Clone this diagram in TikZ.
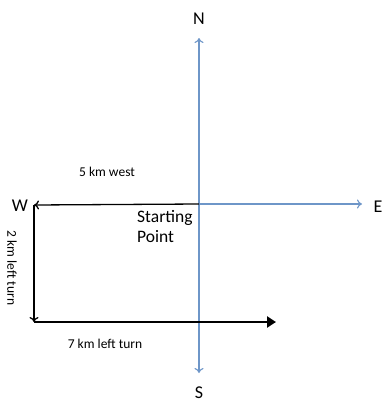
\documentclass[tikz,border=0pt]{standalone}
\usepackage{fontspec}
\setmainfont{Carlito}
\usetikzlibrary{arrows.meta}
\definecolor{axisblue}{RGB}{110,150,200}
\tikzset{
  axis/.style={draw=axisblue, line width=1.1pt, -{To[length=5pt,width=9pt]}},
  walk/.style={draw=black, line width=1.3pt, -{To[length=5pt,width=9pt]}},
  walkthick/.style={draw=black, line width=2.6pt, -{Triangle[length=9pt,width=11pt]}},
  dir/.style={font=\fontsize{18}{20}\selectfont, inner sep=0pt},
  lbl/.style={font=\fontsize{13.5}{15}\selectfont, inner sep=0pt},
}
\begin{document}
\begin{tikzpicture}[x=1pt,y=-1pt]
\useasboundingbox (0,0) rectangle (384,407);
\fill[white] (0,0) rectangle (384,407);
\coordinate (O) at (199,204);
\coordinate (Ntip) at (199,38);
\coordinate (Stip) at (199,373);
\coordinate (Etip) at (362,204);
\coordinate (Wtip) at (34,205);
\coordinate (SWc) at (34,322);
\coordinate (SEtip) at (276,322);
\draw[axis] (O) -- (Ntip);
\draw[axis] (O) -- (Stip);
\draw[axis] (O) -- (Etip);
\draw[walk] (O) -- (Wtip);
\draw[walk] (Wtip) -- (SWc);
\draw[walkthick] (SWc) -- (SEtip);
\node[dir] (N) at (199,19) {N};
\node[dir] (S) at (199,393) {S};
\node[dir] (E) at (378,207) {E};
\node[dir] (W) at (20,206) {W};
\node[lbl] (w5) at (107,172) {5 km west};
\node[lbl, rotate=-90] (l2) at (12,268) {2 km left turn};
\node[lbl] (l7) at (105,344) {7 km left turn};
\node[font=\fontsize{17.5}{20}\selectfont, align=left, inner sep=0pt, anchor=north west] (sp) at (137,210) {Starting\\Point};
\end{tikzpicture}
\end{document}
